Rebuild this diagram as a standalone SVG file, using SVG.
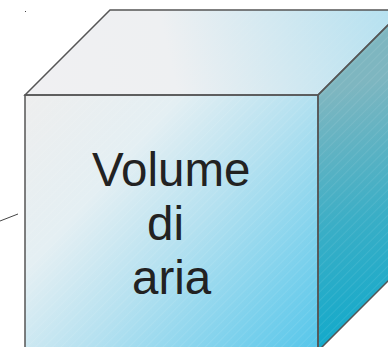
<svg xmlns="http://www.w3.org/2000/svg" width="388" height="347" viewBox="0 0 388 347">
  <defs>
    <linearGradient id="gFront" x1="25" y1="95" x2="318" y2="351" gradientUnits="userSpaceOnUse">
      <stop offset="0" stop-color="#eeeeee"/>
      <stop offset="0.3" stop-color="#e4eff3"/>
      <stop offset="0.55" stop-color="#b5e1f0"/>
      <stop offset="1" stop-color="#55c6ea"/>
    </linearGradient>
    <linearGradient id="gTop" x1="25" y1="95" x2="388" y2="10" gradientUnits="userSpaceOnUse">
      <stop offset="0" stop-color="#f0f0f2"/>
      <stop offset="0.4" stop-color="#eef0f2"/>
      <stop offset="1" stop-color="#b6e1f0"/>
    </linearGradient>
    <linearGradient id="gSide" x1="318" y1="95" x2="388" y2="347" gradientUnits="userSpaceOnUse">
      <stop offset="0" stop-color="#7eb6c0"/>
      <stop offset="0.5" stop-color="#3aaec6"/>
      <stop offset="1" stop-color="#0ea9cb"/>
    </linearGradient>
    <pattern id="hatch" width="6" height="6" patternUnits="userSpaceOnUse" patternTransform="rotate(45)">
      <line x1="0" y1="0" x2="0" y2="6" stroke="#ffffff" stroke-opacity="0.2" stroke-width="0.8"/>
    </pattern>
    <style>
      .edge { stroke: #555555; stroke-width: 1.5; stroke-linejoin: miter; }
      .label { font-family: "Liberation Sans", Arial, sans-serif; font-size: 47.5px; fill: #222222; }
    </style>
  </defs>

  <g id="cube">
    <!-- top face -->
    <polygon points="25,95 110,10 403,10 318,95" fill="url(#gTop)"/>
    <polygon points="25,95 110,10 403,10 318,95" fill="url(#hatch)" opacity="0.4"/>
    <!-- right face -->
    <polygon points="318,95 403,10 403,266 318,351" fill="url(#gSide)"/>
    <polygon points="318,95 403,10 403,266 318,351" fill="url(#hatch)"/>
    <!-- front face -->
    <rect x="25" y="95" width="293" height="256" fill="url(#gFront)"/>
    <rect x="25" y="95" width="293" height="256" fill="url(#hatch)"/>
    <!-- edges -->
    <polygon points="25,95 110,10 403,10 318,95" fill="none" class="edge"/>
    <polygon points="318,95 403,10 403,266 318,351" fill="none" class="edge"/>
    <rect x="25" y="95" width="293" height="256" fill="none" class="edge"/>
  </g>

  <g id="label">
    <text class="label" x="92" y="186">Volume</text>
    <text class="label" x="147" y="240">di</text>
    <text class="label" x="132" y="294">aria</text>
  </g>

  <g id="connectors">
    <line x1="0" y1="221" x2="18" y2="214" stroke="#444444" stroke-width="1"/>
    <rect x="25" y="11" width="1" height="1" fill="#444444"/>
  </g>
</svg>
